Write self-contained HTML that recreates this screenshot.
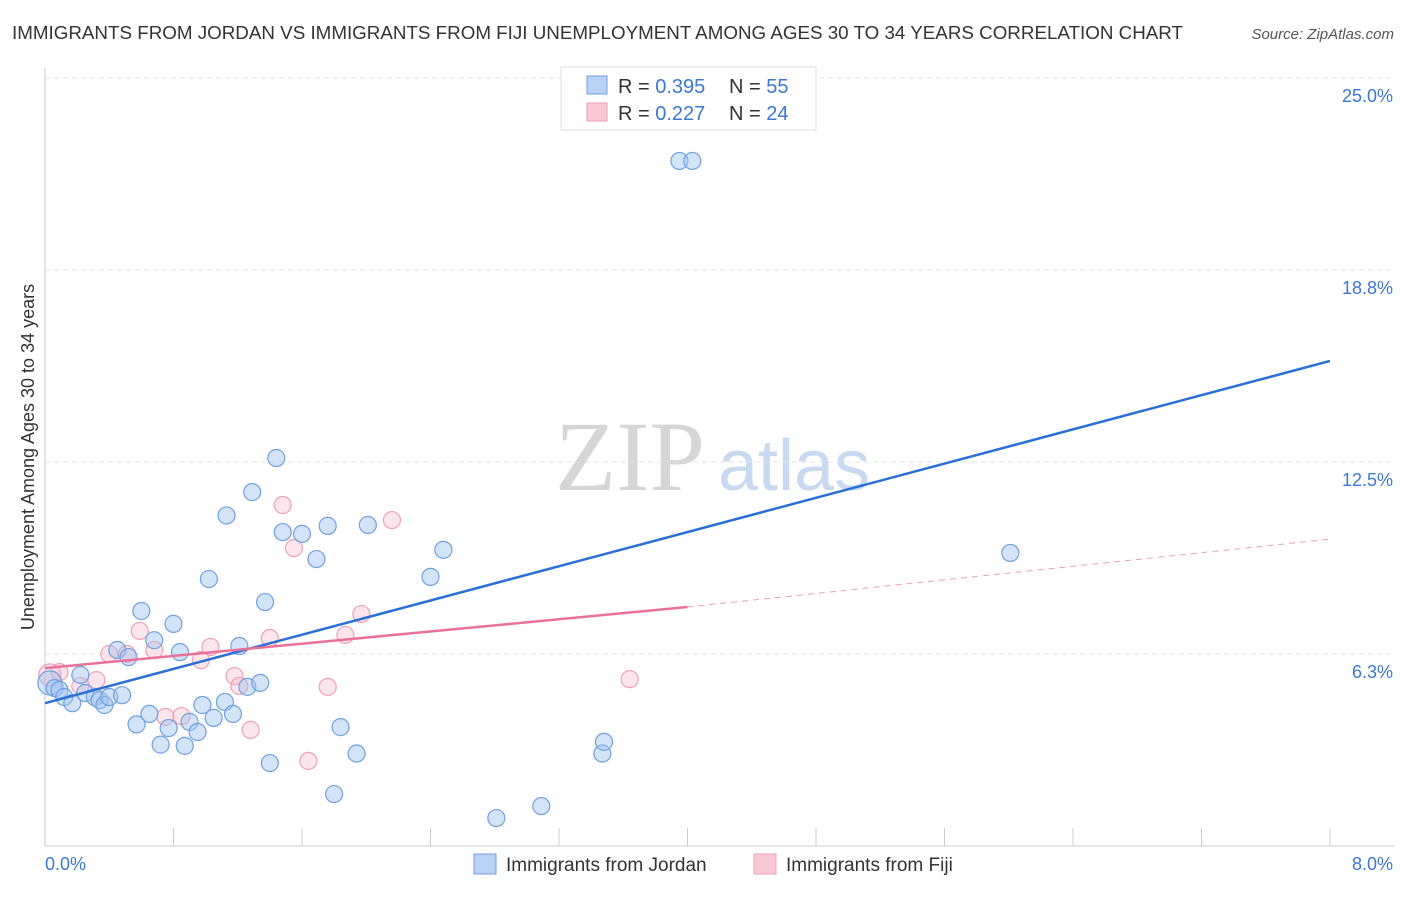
<!DOCTYPE html>
<html><head><meta charset="utf-8"><style>
body{margin:0;background:#fff;font-family:"Liberation Sans",sans-serif;}
</style></head><body>
<svg id="chart" width="1406" height="892" xmlns="http://www.w3.org/2000/svg" font-family="Liberation Sans, sans-serif">
<text x="12" y="39" font-size="18" fill="#333" textLength="1171" lengthAdjust="spacingAndGlyphs">IMMIGRANTS FROM JORDAN VS IMMIGRANTS FROM FIJI UNEMPLOYMENT AMONG AGES 30 TO 34 YEARS CORRELATION CHART</text>
<text x="1394" y="39" font-size="15" fill="#555" font-style="italic" text-anchor="end">Source: ZipAtlas.com</text>
<g><text x="555" y="490" font-size="100" fill="#d6d6d6" font-family="Liberation Serif, serif">ZIP</text><text x="718" y="490" font-size="72" fill="#c8daf2">atlas</text></g>
<text transform="translate(34,457) rotate(-90)" font-size="18" fill="#333" text-anchor="middle">Unemployment Among Ages 30 to 34 years</text>
<g id="grid"></g><g id="axes"></g><g id="marks"></g>
<g>
<rect x="561" y="67" width="255" height="63" fill="#fff" stroke="#ddd"/>
<rect x="587" y="76" width="20" height="18" fill="#b8d2f5" stroke="#6fa0e0"/>
<text x="618" y="93" font-size="20" fill="#333">R = <tspan fill="#3a78d4">0.395</tspan></text>
<text x="729" y="93" font-size="20" fill="#333">N = <tspan fill="#3a78d4">55</tspan></text>
<rect x="587" y="103" width="20" height="18" fill="#f9c8d6" stroke="#f0a0b8"/>
<text x="618" y="120" font-size="20" fill="#333">R = <tspan fill="#3a78d4">0.227</tspan></text>
<text x="729" y="120" font-size="20" fill="#333">N = <tspan fill="#3a78d4">24</tspan></text>
</g>
<g>
<rect x="474" y="854" width="22" height="20" fill="#b8d2f5" stroke="#6fa0e0"/>
<text x="506" y="871" font-size="19" fill="#333">Immigrants from Jordan</text>
<rect x="754" y="854" width="22" height="20" fill="#f9c8d6" stroke="#f0a0b8"/>
<text x="786" y="871" font-size="19" fill="#333">Immigrants from Fiji</text>
</g>
</svg>
<script>
const yTicks=[6.3,12.5,18.8,25.0];
const yTickVals=[6.25,12.5,18.75,25];
const xTickLabels=["0.0%","8.0%"];
const jordanX=[0.03,0.06,0.09,0.12,0.17,0.22,0.25,0.31,0.34,0.37,0.40,0.48,0.45,0.52,0.57,0.60,0.65,0.68,0.72,0.77,0.80,0.84,0.87,0.90,0.95,0.98,1.02,1.05,1.12,1.13,1.17,1.21,1.26,1.29,1.34,1.37,1.40,1.44,1.48,1.60,1.69,1.76,1.80,1.84,1.94,2.01,2.40,2.48,2.81,3.09,3.47,3.48,3.95,4.03,6.01];
const jordanY=[5.31,5.14,5.08,4.85,4.65,5.57,4.98,4.85,4.75,4.59,4.85,4.91,6.38,6.15,3.96,7.65,4.30,6.70,3.30,3.84,7.23,6.31,3.26,4.04,3.71,4.59,8.69,4.17,4.69,10.76,4.30,6.51,5.18,11.52,5.31,7.94,2.70,12.63,10.22,10.16,9.34,10.42,1.69,3.87,3.01,10.45,8.76,9.64,0.91,1.30,3.01,3.39,22.3,22.3,9.54];
const fijiX=[0.03,0.09,0.22,0.32,0.40,0.51,0.59,0.68,0.75,0.85,0.97,1.03,1.18,1.21,1.28,1.40,1.48,1.55,1.64,1.76,1.87,1.97,2.16,3.64];
const fijiY=[5.57,5.66,5.21,5.40,6.25,6.25,7.00,6.38,4.20,4.23,6.05,6.48,5.53,5.21,3.78,6.77,11.10,9.70,2.77,5.18,6.87,7.55,10.61,5.43];
const jordanLine=[[0,4.65],[8,15.79]];
const fijiSolid=[[0,5.79],[4,7.78]];
const fijiDash=[[4,7.78],[8,9.99]];
const X=v=>45+v*160.625, Y=v=>846-v*30.72;
const NS="http://www.w3.org/2000/svg";
function mk(p,t,a){const e=document.createElementNS(NS,t);for(const k in a)e.setAttribute(k,a[k]);p.appendChild(e);return e;}
const grid=document.getElementById('grid'),axes=document.getElementById('axes'),marks=document.getElementById('marks');
yTicks.forEach((t,i)=>{const y=Y(yTickVals[i]);
const l=mk(grid,'line',{x1:45,x2:1394,y1:y,y2:y,stroke:'#e3e3e3','stroke-dasharray':'5,4'});


const tx=mk(axes,'text',{x:1393,y:y+24,'font-size':18,fill:'#3a78d4','text-anchor':'end'});tx.textContent=t.toFixed(1)+'%';

});
const ax=mk(axes,'line',{x1:45,x2:1394,y1:846,y2:846,stroke:'#ccc'});


const ay=mk(axes,'line',{x1:45,x2:45,y1:68,y2:846,stroke:'#ccc'});


for(let i=0;i<=10;i++){const x=X(i*0.8);const t=mk(axes,'line',{x1:x,x2:x,y1:828,y2:846,stroke:'#ccc'});

}
xTickLabels.forEach((s,i)=>{const t=mk(axes,'text',{x:i?1393:45,y:870,'font-size':18,fill:'#3a78d4','text-anchor':i?'end':'start'});t.textContent=s;

});
fijiX.forEach((v,i)=>{const c=mk(marks,'circle',{cx:X(v),cy:Y(fijiY[i]),r:i==0?11:8.5,fill:'rgba(246,180,200,0.35)',stroke:'#f0a0b8','stroke-width':1.2});

});
jordanX.forEach((v,i)=>{const c=mk(marks,'circle',{cx:X(v),cy:Y(jordanY[i]),r:i==0?12:8.5,fill:'rgba(160,195,240,0.45)',stroke:'#6fa0e0','stroke-width':1.2});

});
const jl=mk(marks,'line',{x1:X(jordanLine[0][0]),y1:Y(jordanLine[0][1]),x2:X(jordanLine[1][0]),y2:Y(jordanLine[1][1]),stroke:'#2a6fd6','stroke-width':2.5});


const fl=mk(marks,'line',{x1:X(fijiSolid[0][0]),y1:Y(fijiSolid[0][1]),x2:X(fijiSolid[1][0]),y2:Y(fijiSolid[1][1]),stroke:'#e8719a','stroke-width':2.5});


const fd=mk(marks,'line',{x1:X(fijiDash[0][0]),y1:Y(fijiDash[0][1]),x2:X(fijiDash[1][0]),y2:Y(fijiDash[1][1]),stroke:'#e8a0b8','stroke-width':1,'stroke-dasharray':'6,5'});


</script>
</body></html>
